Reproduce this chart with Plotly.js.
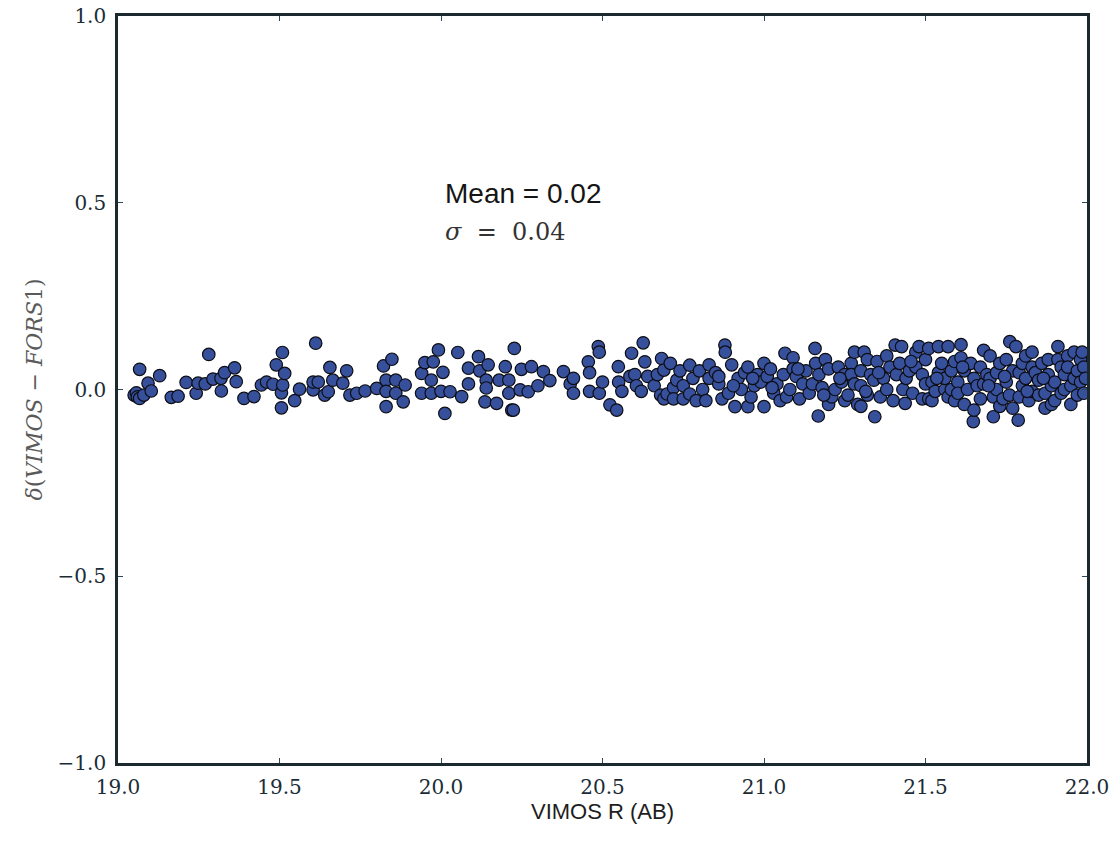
<!DOCTYPE html>
<html>
<head>
<meta charset="utf-8">
<script src="https://cdn.plot.ly/plotly-3.0.1.min.js"></script>
<style>html,body{margin:0;padding:0;background:#fff;}#chart{width:1117px;height:842px;}</style>
</head>
<body>
<div id="chart"></div>
<script>
// VIMOS R (AB) magnitudes
var vimosR = [
19.050,19.057,19.060,19.067,19.067,19.080,19.093,19.103,19.129,19.165,19.186,19.211,19.242,19.248,19.270,19.281,19.294,19.319,19.320,19.330,
19.361,19.366,19.390,19.421,19.444,19.460,19.480,19.490,19.506,19.506,19.509,19.510,19.516,19.547,19.562,19.604,19.604,19.612,
19.620,19.640,19.651,19.656,19.665,19.696,19.708,19.718,19.739,19.765,19.801,19.822,19.830,19.830,19.830,19.848,19.860,19.860,19.883,19.889,
19.940,19.940,19.950,19.970,19.970,19.976,19.992,20.000,20.006,20.012,20.028,20.052,20.064,20.085,20.085,20.116,20.120,20.136,20.140,20.140,
20.146,20.172,20.180,20.199,20.210,20.210,20.219,20.224,20.227,20.245,20.249,20.270,20.280,20.300,20.317,20.337,20.379,20.400,20.410,20.410,
20.456,20.460,20.460,20.487,20.490,20.490,20.500,20.523,20.544,20.549,20.550,20.560,20.585,20.590,20.600,20.605,20.620,20.626,20.631,20.640,
20.660,20.670,20.680,20.683,20.690,20.690,20.700,20.710,20.720,20.720,20.730,20.740,20.750,20.750,20.770,20.770,20.780,20.790,20.800,
20.810,20.820,20.830,20.830,20.850,20.860,20.870,20.879,20.880,20.890,20.900,20.910,20.920,20.930,20.940,20.950,20.950,20.960,20.970,20.980,
20.990,21.000,21.000,21.010,21.020,21.030,21.040,21.050,21.060,21.065,21.070,21.080,21.090,21.090,21.100,21.110,21.120,21.130,21.140,21.150,
21.158,21.160,21.168,21.170,21.180,21.190,21.200,21.200,21.210,21.220,21.230,21.240,21.250,21.250,21.260,21.270,21.270,21.280,21.280,21.290,
21.300,21.300,21.300,21.310,21.320,21.320,21.330,21.340,21.343,21.350,21.360,21.370,21.380,21.380,21.390,21.400,21.406,21.410,
21.420,21.426,21.430,21.437,21.440,21.450,21.460,21.470,21.470,21.480,21.490,21.490,21.500,21.500,21.510,21.510,21.520,21.520,21.530,21.540,
21.540,21.550,21.560,21.560,21.570,21.570,21.580,21.580,21.590,21.590,21.600,21.600,21.610,21.610,21.620,21.620,21.630,21.640,21.648,21.650,
21.650,21.660,21.670,21.670,21.680,21.680,21.690,21.700,21.700,21.710,21.710,21.720,21.720,21.730,21.730,21.740,21.750,21.750,21.760,21.761,
21.770,21.770,21.780,21.787,21.790,21.790,21.800,21.800,21.810,21.810,21.820,21.830,21.830,21.830,21.840,21.850,21.850,21.860,21.870,21.870,
21.880,21.880,21.890,21.890,21.900,21.900,21.910,21.910,21.920,21.920,21.930,21.930,21.940,21.940,21.950,21.950,21.960,21.960,21.970,21.970,
21.980,21.980,21.985,21.990,21.990,21.995,
20.860,20.905,20.965,21.025,21.105,21.185,21.235,21.315,21.355,21.455,21.535,21.615,21.695,21.745,21.815,21.865
];
// delta(VIMOS - FORS1)
var deltaMag = [
-0.015,-0.009,-0.020,0.054,-0.024,-0.015,0.017,-0.004,0.037,-0.021,-0.018,0.019,-0.010,0.017,0.015,0.094,0.028,0.030,-0.004,0.045,
0.058,0.021,-0.024,-0.019,0.012,0.020,0.014,0.066,-0.009,-0.049,0.099,0.012,0.043,-0.030,0.001,-0.001,0.020,0.124,
0.020,-0.015,-0.006,0.059,0.025,0.017,0.050,-0.015,-0.010,-0.004,0.003,0.063,0.025,-0.005,-0.046,0.081,0.025,-0.010,-0.033,0.012,
0.043,-0.010,0.072,0.025,-0.010,0.074,0.106,-0.005,0.046,-0.064,-0.006,0.099,-0.019,0.057,0.015,0.088,0.050,-0.033,0.025,0.004,
0.066,-0.037,0.025,0.061,-0.010,0.025,-0.055,-0.055,0.110,-0.001,0.054,-0.006,0.061,0.010,0.048,0.024,0.048,0.015,0.030,-0.010,
0.074,0.045,-0.005,0.115,0.100,-0.010,0.020,-0.041,-0.055,0.061,0.020,-0.005,0.035,0.097,0.040,0.010,-0.005,0.125,0.074,0.035,
0.010,0.040,-0.015,0.083,0.052,-0.025,-0.012,0.070,0.005,-0.025,0.025,0.050,0.010,-0.025,0.065,-0.012,0.030,-0.030,0.050,
0.000,-0.030,0.066,0.030,0.045,0.015,-0.025,0.119,0.100,-0.010,0.066,-0.046,0.030,0.000,0.045,-0.046,0.060,-0.020,0.010,0.040,
0.020,-0.046,0.070,0.035,0.055,-0.010,0.015,-0.030,0.040,0.097,-0.020,0.000,0.085,0.055,0.035,-0.025,0.015,0.050,-0.010,0.015,
0.110,0.070,-0.071,0.040,0.005,0.080,0.055,-0.040,-0.020,0.000,0.060,0.020,0.040,-0.030,-0.015,0.070,0.040,0.100,0.015,-0.040,
0.050,0.010,-0.045,0.100,-0.015,0.080,0.040,0.025,-0.073,0.075,-0.020,0.030,0.090,0.000,0.060,-0.030,0.119,0.040,
0.070,0.115,0.000,-0.037,0.030,0.050,-0.010,0.100,0.060,0.115,-0.025,0.040,0.015,0.080,0.110,-0.025,-0.030,0.020,-0.005,0.115,
0.045,0.070,0.000,0.030,0.115,-0.020,0.000,0.050,0.075,-0.030,0.020,-0.010,0.120,0.085,0.050,-0.040,0.000,0.070,-0.086,-0.055,
0.030,0.010,-0.025,0.060,0.105,0.015,0.040,0.090,0.030,-0.073,-0.020,0.000,0.045,0.070,-0.045,-0.025,0.080,0.020,-0.015,0.128,
-0.050,0.050,0.115,-0.082,0.045,-0.020,0.010,0.070,0.090,0.030,-0.030,0.100,-0.005,0.060,0.045,-0.015,0.025,0.070,-0.050,-0.010,
0.080,0.040,0.010,-0.040,-0.030,0.020,0.115,0.080,0.060,-0.010,0.000,0.040,0.090,0.060,-0.040,0.010,0.030,0.100,-0.015,0.050,
0.080,0.020,0.100,-0.010,0.060,0.030,
0.035,0.010,0.030,0.005,0.055,-0.015,0.030,-0.005,0.045,0.075,0.030,0.060,0.010,0.035,-0.005,0.030
];
var xTickVals = [19.0, 19.5, 20.0, 20.5, 21.0, 21.5, 22.0];
var xTickText = ["19.0", "19.5", "20.0", "20.5", "21.0", "21.5", "22.0"];
var yTickVals = [-1.0, -0.5, 0.0, 0.5, 1.0];
var yTickText = ["\u22121.0", "\u22120.5", "0.0", "0.5", "1.0"];
var xTitle = "VIMOS R (AB)";
var yTitle = "<i>\u03b4</i>(<i>VIMOS</i> \u2212 <i>FORS</i>1)";
var meanText = "Mean = 0.02";
var sigmaText = "<i>\u03c3</i>  =  0.04";

var trace = {
  x: vimosR, y: deltaMag, type: 'scatter', mode: 'markers',
  marker: {size: 12.5, color: '#36509c', line: {color: '#0d0d14', width: 1.2}},
  hoverinfo: 'x+y'
};
var axisCommon = {
  showgrid: false, zeroline: false, showline: true, mirror: 'ticks',
  linecolor: '#1c2a30', linewidth: 2.8,
  ticks: 'inside', ticklen: 5, tickwidth: 1, tickcolor: '#2a4a5a',
  tickmode: 'array',
  tickfont: {family: 'DejaVu Serif', size: 20, color: '#1b2c36'}
};
var layout = {
  width: 1117, height: 842,
  margin: {l: 118, r: 30, t: 16, b: 79, pad: 0},
  paper_bgcolor: '#ffffff', plot_bgcolor: '#ffffff',
  showlegend: false,
  xaxis: Object.assign({}, axisCommon, {
    range: [19.0, 22.0], tickvals: xTickVals, ticktext: xTickText,
    ticklabelstandoff: 4
  }),
  yaxis: Object.assign({}, axisCommon, {
    range: [-1.0, 1.0], tickvals: yTickVals, ticktext: yTickText,
    ticklabelstandoff: 5
  }),
  annotations: [
    {x: 0.5, y: -0.0643, xref: 'paper', yref: 'paper', xanchor: 'center', yanchor: 'middle', showarrow: false,
     text: xTitle, font: {family: 'Liberation Sans', size: 22, color: '#1d1d1d'}},
    {x: -0.0857, y: 0.5, xref: 'paper', yref: 'paper', xanchor: 'center', yanchor: 'middle', showarrow: false,
     textangle: -90, text: yTitle, font: {family: 'DejaVu Serif', size: 22, color: '#5a5a5a'}},
    {x: 20.006, y: 0.526, xref: 'x', yref: 'y', xanchor: 'left', yanchor: 'middle', showarrow: false,
     text: meanText, font: {family: 'Liberation Sans', size: 28, color: '#151515'}},
    {x: 20.006, y: 0.421, xref: 'x', yref: 'y', xanchor: 'left', yanchor: 'middle', showarrow: false,
     text: sigmaText, font: {family: 'DejaVu Serif', size: 24, color: '#333'}}
  ]
};
Plotly.newPlot('chart', [trace], layout, {displayModeBar: false, staticPlot: true});
</script>
</body>
</html>
